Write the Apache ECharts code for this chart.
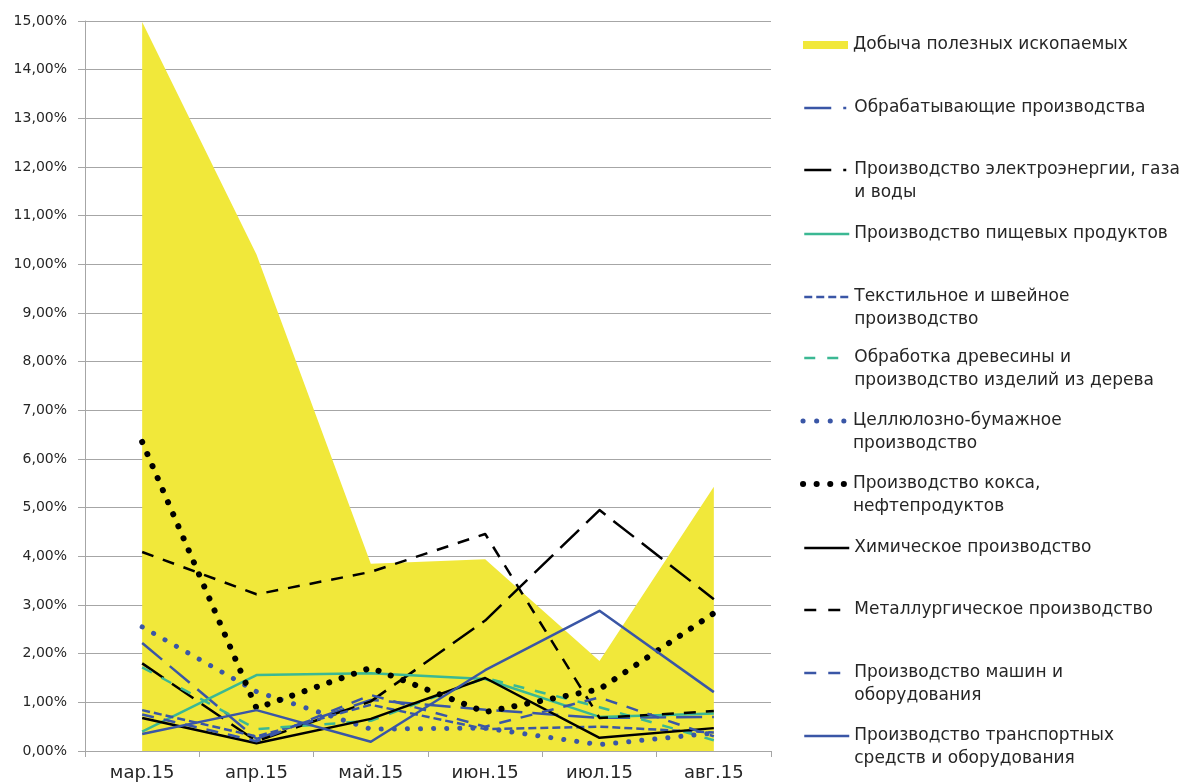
<!DOCTYPE html>
<html>
<head>
<meta charset="utf-8">
<script src="https://cdn.jsdelivr.net/npm/echarts@6/dist/echarts.min.js"></script>
<style>
html,body{margin:0;padding:0;background:#fff;}
#chart{width:1184px;height:784px;}
</style>
</head>
<body>
<div id="chart"></div>
<script>
// ---- Data (percent values) ----
const categories = ['мар.15','апр.15','май.15','июн.15','июл.15','авг.15'];
const mining      = [14.98, 10.2, 3.85, 3.94, 1.85, 5.43];
const manufacturing = [2.22, 0.25, 1.05, 0.85, 0.68, 0.7];
const electricity = [1.8, 0.2, 1.02, 2.68, 4.95, 3.12];
const food        = [0.4, 1.56, 1.6, 1.48, 0.7, 0.77];
const textile     = [0.84, 0.3, 0.95, 0.45, 0.5, 0.38];
const wood        = [1.72, 0.45, 0.62, 1.5, 0.9, 0.22];
const paper       = [2.55, 1.22, 0.45, 0.47, 0.13, 0.37];
const coke        = [6.35, 0.88, 1.71, 0.8, 1.27, 2.83];
const chemical    = [0.68, 0.16, 0.66, 1.5, 0.27, 0.47];
const metallurgy  = [4.09, 3.22, 3.68, 4.46, 0.68, 0.82];
const machines    = [0.75, 0.2, 1.15, 0.5, 1.1, 0.3];
const transport   = [0.35, 0.84, 0.19, 1.66, 2.88, 1.21];

const seriesNames = [
  'Добыча полезных ископаемых',
  'Обрабатывающие производства',
  'Производство электроэнергии, газа и воды',
  'Производство пищевых продуктов',
  'Текстильное и швейное производство',
  'Обработка древесины и производство изделий из дерева',
  'Целлюлозно-бумажное производство',
  'Производство кокса, нефтепродуктов',
  'Химическое производство',
  'Металлургическое производство',
  'Производство машин и оборудования',
  'Производство транспортных средств и оборудования'
];
const legendLabels = [
  'Добыча полезных ископаемых',
  'Обрабатывающие производства',
  'Производство электроэнергии, газа\nи воды',
  'Производство пищевых продуктов',
  'Текстильное и швейное\nпроизводство',
  'Обработка древесины и\nпроизводство изделий из дерева',
  'Целлюлозно-бумажное\nпроизводство',
  'Производство кокса,\nнефтепродуктов',
  'Химическое производство',
  'Металлургическое производство',
  'Производство машин и\nоборудования',
  'Производство транспортных\nсредств и оборудования'
];

const YELLOW = '#F1E83A', BLUE = '#3A56A6', TEAL = '#3BB893', BLACK = '#000000';
const FONT = 'DejaVu Sans';
const TXT = '#262626';

// line styles per series: [colour, dash, width, cap, legend dash]
const styles = [
  [YELLOW, 'solid', 0, 'butt', 'solid'],
  [BLUE,  [26, 10], 2.5, 'butt', [27, 12, 3, 20]],
  [BLACK, [26, 10], 2.5, 'butt', [27, 12, 3, 20]],
  [TEAL,  'solid', 2.5, 'butt', 'solid'],
  [BLUE,  [8, 4], 2.5, 'butt', [8, 4]],
  [TEAL,  [11, 11], 2.5, 'butt', [11, 12]],
  [BLUE,  [0.1, 13], 5, 'round', [0.1, 13.5]],
  [BLACK, [0.1, 13], 6, 'round', [0.1, 13.5]],
  [BLACK, 'solid', 2.5, 'butt', 'solid'],
  [BLACK, [12, 10], 2.5, 'butt', [12, 12]],
  [BLUE,  [12, 10], 2.5, 'butt', [12, 12]],
  [BLUE,  'solid', 2.5, 'butt', 'solid']
];
const dataSets = [mining, manufacturing, electricity, food, textile, wood, paper, coke, chemical, metallurgy, machines, transport];

const series = dataSets.map(function(d, i){
  const s = styles[i];
  if (i === 0) {
    return {
      name: seriesNames[0], type: 'line', data: d, symbol: 'none',
      lineStyle: {width: 0, color: YELLOW}, itemStyle: {color: YELLOW},
      areaStyle: {color: YELLOW, opacity: 1}, animation: false, z: 2
    };
  }
  return {
    name: seriesNames[i], type: 'line', data: d, symbol: 'none', smooth: false,
    lineStyle: {color: s[0], width: s[2], type: s[1], cap: s[3], join: 'round'},
    itemStyle: {color: s[0]},
    emphasis: {disabled: true}, animation: false, z: 3
  };
});

// legend item vertical centres (first text line)
const LH = 23;
const legendCentres = [45,108,170,234,297,358,421,484,548,610,673,736];
const legends = seriesNames.map(function(n, i){
  const twoLine = legendLabels[i].indexOf('\n') >= 0;
  const s = styles[i];
  const capShift = s[3] === 'round' ? s[2] / 2 : 0;
  return {
    data: [i === 0 ? {name: n, icon: 'rect'} : {name: n}],
    orient: 'vertical', left: 803 - capShift,
    top: twoLine ? legendCentres[i] - 1.5 * LH : legendCentres[i] - 0.5 * LH,
    padding: 0, itemWidth: 45, itemHeight: i === 0 ? 8 : 10, itemGap: 0,
    selectedMode: false,
    itemStyle: i === 0 ? {} : {opacity: 0},
    lineStyle: i === 0 ? {} : {width: s[2], type: s[4], cap: s[3], color: s[0]},
    // blank first line keeps the icon level with the first text line
    formatter: function(){ return twoLine ? ' \n' + legendLabels[i] : legendLabels[i]; },
    textStyle: {fontFamily: FONT, fontSize: 17, color: TXT, lineHeight: LH}
  };
});

const chart = echarts.init(document.getElementById('chart'), null, {renderer: 'canvas'});
chart.setOption({
  backgroundColor: '#ffffff',
  animation: false,
  grid: {left: 85, right: 413, top: 21, bottom: 33, containLabel: false},
  legend: legends,
  xAxis: {
    type: 'category', data: categories, boundaryGap: true,
    axisLine: {show: true, lineStyle: {color: '#a6a6a6', width: 1}},
    axisTick: {show: true, alignWithLabel: false, length: 6, lineStyle: {color: '#a6a6a6'}},
    axisLabel: {fontFamily: FONT, fontSize: 18, color: TXT, margin: 13},
    splitLine: {show: false}
  },
  yAxis: {
    type: 'value', min: 0, max: 15, interval: 1,
    axisLine: {show: true, lineStyle: {color: '#a6a6a6', width: 1}},
    axisTick: {show: true, length: 7, lineStyle: {color: '#a6a6a6'}},
    axisLabel: {fontFamily: FONT, fontSize: 14, color: TXT, margin: 18,
      formatter: function(v){ return v.toFixed(2).replace('.', ',') + '%'; }},
    splitLine: {show: true, lineStyle: {color: '#a6a6a6', width: 1}}
  },
  series: series
});
</script>
</body>
</html>
